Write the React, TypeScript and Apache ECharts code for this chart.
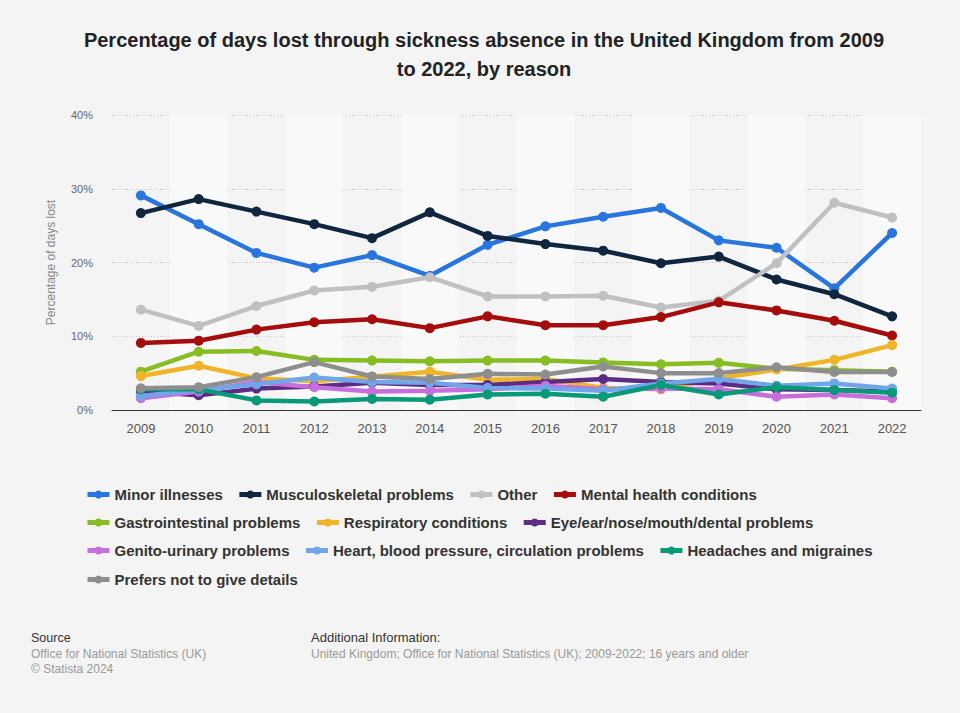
import React, { useEffect, useRef } from "react";
import * as echarts from "echarts";

const years = ["2009","2010","2011","2012","2013","2014","2015","2016","2017","2018","2019","2020","2021","2022"];
const yTicks = [0, 10, 20, 30, 40];

const minorIllnesses = [29.1, 25.2, 21.3, 19.3, 21.0, 18.2, 22.4, 24.9, 26.2, 27.4, 23.0, 22.0, 16.5, 24.0];
const musculoskeletal = [26.7, 28.6, 26.9, 25.2, 23.3, 26.8, 23.6, 22.5, 21.6, 19.9, 20.8, 17.7, 15.7, 12.7];
const other = [13.6, 11.4, 14.1, 16.2, 16.7, 18.0, 15.4, 15.4, 15.5, 13.9, 14.8, 19.9, 28.1, 26.1];
const mentalHealth = [9.1, 9.4, 10.9, 11.9, 12.3, 11.1, 12.7, 11.5, 11.5, 12.6, 14.6, 13.5, 12.1, 10.1];
const gastro = [5.2, 7.9, 8.0, 6.8, 6.7, 6.6, 6.7, 6.7, 6.45, 6.2, 6.4, 5.6, 5.4, 5.2];
const respiratory = [4.6, 6.0, 4.3, 3.9, 4.5, 5.2, 4.1, 4.2, 3.0, 2.8, 4.3, 5.5, 6.8, 8.8];
const eyeEar = [2.5, 2.0, 2.9, 3.2, 3.7, 3.4, 3.4, 3.8, 4.2, 3.8, 3.6, 2.8, 2.7, 2.5];
const genito = [1.6, 2.5, 3.8, 3.1, 2.5, 2.6, 2.8, 3.3, 2.8, 2.9, 2.8, 1.8, 2.1, 1.6];
const heart = [1.9, 2.7, 3.5, 4.4, 3.8, 3.7, 3.0, 2.9, 2.6, 3.6, 4.2, 3.3, 3.6, 2.9];
const headaches = [2.8, 2.8, 1.3, 1.15, 1.5, 1.4, 2.1, 2.2, 1.8, 3.4, 2.1, 3.1, 2.7, 2.35];
const prefersNot = [2.95, 3.1, 4.45, 6.5, 4.55, 4.2, 4.9, 4.8, 5.9, 5.0, 5.0, 5.8, 5.15, 5.15];

const seriesDefs = [
  { name: "Minor illnesses", data: minorIllnesses, color: "#2876dd" },
  { name: "Musculoskeletal problems", data: musculoskeletal, color: "#10263f" },
  { name: "Other", data: other, color: "#c0c0c0" },
  { name: "Mental health conditions", data: mentalHealth, color: "#a50c0c" },
  { name: "Gastrointestinal problems", data: gastro, color: "#86bd22" },
  { name: "Respiratory conditions", data: respiratory, color: "#f0b429" },
  { name: "Eye/ear/nose/mouth/dental problems", data: eyeEar, color: "#5c2b82" },
  { name: "Genito-urinary problems", data: genito, color: "#c66edc" },
  { name: "Heart, blood pressure, circulation problems", data: heart, color: "#70a5ea" },
  { name: "Headaches and migraines", data: headaches, color: "#089a78" },
  { name: "Prefers not to give details", data: prefersNot, color: "#8e8e8e" },
];

const legendRows = [
  ["Minor illnesses", "Musculoskeletal problems", "Other", "Mental health conditions"],
  ["Gastrointestinal problems", "Respiratory conditions", "Eye/ear/nose/mouth/dental problems"],
  ["Genito-urinary problems", "Heart, blood pressure, circulation problems", "Headaches and migraines"],
  ["Prefers not to give details"],
];
const legendTops = [487, 515, 543, 572];

export default function App() {
  const ref = useRef<HTMLDivElement>(null);
  useEffect(() => {
    if (!ref.current) return;
    const chart = echarts.init(ref.current, null, { renderer: "svg" });
    const font = "'Liberation Sans', Arial, Helvetica, sans-serif";
    chart.setOption({
      animation: false,
      backgroundColor: "#f4f4f4",
      textStyle: { fontFamily: font },
      title: {
        text: "Percentage of days lost through sickness absence in the United Kingdom from 2009\nto 2022, by reason",
        left: 479,
        top: 20,
        textAlign: "center",
        textStyle: { fontFamily: font, fontSize: 20, fontWeight: "bold", color: "#222", lineHeight: 29 },
      },
      grid: { left: 112, right: 39, top: 115, bottom: 303, containLabel: false },
      xAxis: {
        type: "category",
        data: years,
        boundaryGap: true,
        axisTick: { show: false },
        axisLine: { lineStyle: { color: "#333", width: 1 } },
        axisLabel: { color: "#555", fontSize: 13, margin: 12, fontFamily: font },
        splitArea: { show: true, areaStyle: { color: ["rgba(0,0,0,0)", "#f9f9f9"] } },
      },
      yAxis: {
        type: "value",
        min: 0,
        max: 40,
        interval: 10,
        name: "Percentage of days lost",
        nameLocation: "middle",
        nameGap: 55,
        nameTextStyle: { color: "#888", fontSize: 12, fontFamily: font },
        axisLine: { show: false },
        axisTick: { show: false },
        axisLabel: { formatter: (v: number) => (yTicks.includes(v) ? v + "%" : ""), color: "#666", fontSize: 11, margin: 19, fontFamily: font },
        splitLine: { lineStyle: { type: [1, 2], color: "#c8c8c8", width: 1 } },
      },
      legend: legendRows.map((row, i) => ({
        data: row,
        left: 85,
        top: legendTops[i],
        padding: 0,
        orient: "horizontal",
        itemGap: 14,
        itemWidth: 22,
        itemHeight: 10,
        lineStyle: { width: 5 },
        textStyle: { fontFamily: font, fontSize: 15, fontWeight: "bold", color: "#333" },
      })),
      series: seriesDefs.map((s) => ({
        name: s.name,
        type: "line",
        data: s.data,
        symbol: "circle",
        symbolSize: 10,
        lineStyle: { width: 4.5, color: s.color },
        itemStyle: { color: s.color },
        emphasis: { disabled: true },
      })),
      graphic: [
        { type: "text", left: 31, top: 631, style: { text: "Source", fontSize: 12.5, fill: "#333", fontFamily: font } },
        { type: "text", left: 31, top: 648, style: { text: "Office for National Statistics (UK)", fontSize: 12, fill: "#999", fontFamily: font } },
        { type: "text", left: 31, top: 663, style: { text: "© Statista 2024", fontSize: 12, fill: "#999", fontFamily: font } },
        { type: "text", left: 311, top: 631, style: { text: "Additional Information:", fontSize: 13, fill: "#333", fontFamily: font } },
        { type: "text", left: 311, top: 648, style: { text: "United Kingdom; Office for National Statistics (UK); 2009-2022; 16 years and older", fontSize: 12, fill: "#999", fontFamily: font } },
      ],
    });
    return () => chart.dispose();
  }, []);
  return <div ref={ref} style={{ width: 960, height: 713, position: "absolute", left: 0, top: 0 }} />;
}
